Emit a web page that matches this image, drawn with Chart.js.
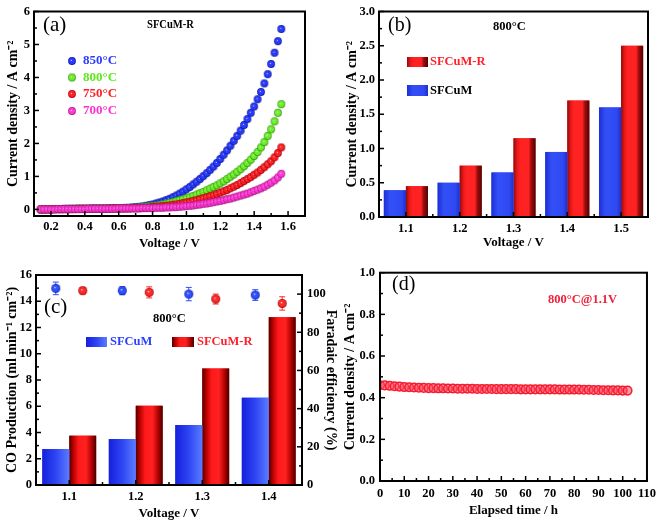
<!DOCTYPE html>
<html><head><meta charset="utf-8">
<script src="https://cdn.jsdelivr.net/npm/chart.js@4.4.1/dist/chart.umd.min.js"></script>
<style>
html,body{margin:0;padding:0;background:#fff;}
#wrap{position:relative;width:661px;height:522px;overflow:hidden;background:#fff;}
canvas{position:absolute;}
</style></head><body>
<div id="wrap">
<canvas id="ca" width="330" height="260" style="left:0;top:0"></canvas>
<canvas id="cb" width="331" height="260" style="left:330px;top:0"></canvas>
<canvas id="cc" width="340" height="262" style="left:0;top:260px"></canvas>
<canvas id="cd" width="331" height="262" style="left:330px;top:260px"></canvas>
</div>
<script>
// ---------- Panel (a) data ----------
const voltageA = [0.14,0.16,0.18,0.20,0.22,0.24,0.26,0.28,0.30,0.32,0.34,0.36,0.38,0.40,0.42,0.44,0.46,0.48,0.50,0.52,0.54,0.56,0.58,0.60,0.62,0.64,0.66,0.68,0.70,
  0.72,0.74,0.76,0.78,0.80,0.82,0.84,0.86,0.88,0.90,0.92,0.94,0.96,0.98,1.00,1.02,1.04,1.06,1.08,1.10,1.12,1.14,1.16,1.18,1.20,1.22,1.24,1.26,1.28,1.30,1.32,1.34,1.36,1.38,1.40,1.42,1.44,1.46,1.48,1.50,1.52,1.54,1.56];
const j850 = [0.00,0.00,0.01,0.01,0.01,0.01,0.01,0.02,0.02,0.02,0.02,0.02,0.02,0.02,0.02,0.03,0.03,0.03,0.03,0.03,0.03,0.03,0.04,0.04,0.04,0.05,0.05,0.06,0.07,
  0.08,0.09,0.11,0.13,0.15,0.18,0.21,0.24,0.28,0.32,0.37,0.42,0.48,0.54,0.61,0.68,0.76,0.84,0.92,1.01,1.10,1.20,1.30,1.41,1.53,1.66,1.79,1.93,2.08,2.23,2.39,2.56,2.74,2.93,3.12,3.34,3.56,3.82,4.10,4.41,4.75,5.10,5.47];
const j800 = [0.00,0.00,0.00,0.01,0.01,0.01,0.01,0.01,0.01,0.02,0.02,0.02,0.02,0.02,0.02,0.02,0.02,0.02,0.03,0.03,0.03,0.03,0.03,0.03,0.04,0.04,0.04,0.05,0.05,
  0.06,0.07,0.08,0.09,0.10,0.11,0.13,0.15,0.17,0.20,0.22,0.25,0.28,0.31,0.34,0.37,0.41,0.45,0.49,0.53,0.58,0.63,0.68,0.73,0.79,0.85,0.92,0.99,1.06,1.14,1.22,1.31,1.41,1.51,1.62,1.74,1.88,2.04,2.23,2.43,2.67,2.93,3.19];
const j750 = [0.00,0.00,0.00,0.00,0.01,0.01,0.01,0.01,0.01,0.01,0.01,0.02,0.02,0.02,0.02,0.02,0.02,0.02,0.02,0.02,0.03,0.03,0.03,0.03,0.03,0.03,0.03,0.04,0.04,
  0.04,0.05,0.05,0.06,0.07,0.08,0.09,0.10,0.11,0.12,0.14,0.15,0.17,0.19,0.21,0.23,0.26,0.28,0.31,0.34,0.37,0.40,0.43,0.47,0.51,0.55,0.59,0.64,0.69,0.74,0.80,0.86,0.92,0.98,1.05,1.12,1.20,1.28,1.37,1.46,1.58,1.71,1.88];
const j700 = [0.00,0.00,0.00,0.00,0.00,0.01,0.01,0.01,0.01,0.01,0.01,0.01,0.01,0.01,0.02,0.02,0.02,0.02,0.02,0.02,0.02,0.02,0.02,0.03,0.03,0.03,0.03,0.03,0.03,
  0.03,0.04,0.04,0.04,0.04,0.05,0.05,0.05,0.06,0.06,0.07,0.07,0.08,0.09,0.10,0.11,0.12,0.14,0.15,0.17,0.18,0.20,0.22,0.24,0.26,0.28,0.31,0.33,0.36,0.39,0.42,0.45,0.48,0.52,0.56,0.60,0.64,0.69,0.75,0.81,0.88,0.97,1.08];
const xTicksA = [0.2,0.4,0.6,0.8,1.0,1.2,1.4,1.6];
const xMinorA = [0.3,0.5,0.7,0.9,1.1,1.3,1.5];
const yTicksA = [0,1,2,3,4,5,6];
const yMinorA = [0.5,1.5,2.5,3.5,4.5,5.5];

// ---------- Panel (b) data ----------
const catsB = ['1.1','1.2','1.3','1.4','1.5'];
const sfcumB = [0.39,0.50,0.65,0.95,1.60];
const sfcumRB = [0.45,0.75,1.15,1.70,2.50];
const yTicksB = [0,0.5,1.0,1.5,2.0,2.5,3.0];
const yMinorB = [0.25,0.75,1.25,1.75,2.25,2.75];

// ---------- Panel (c) data ----------
const catsC = ['1.1','1.2','1.3','1.4'];
const coSFCuM = [2.74,3.50,4.57,6.65];
const coSFCuMR = [3.76,6.04,8.88,12.79];
const feSFCuM = [103.0,101.8,100.0,99.5];
const feSFCuMErr = [3.3,2.1,3.5,2.8];
const feSFCuMR = [101.8,100.9,97.4,95.1];
const feSFCuMRErr = [1.7,2.9,2.6,3.5];
const yTicksC = [0,2,4,6,8,10,12,14,16];
const yMinorC = [1,3,5,7,9,11,13,15];
const y1TicksC = [0,20,40,60,80,100];
const y1MinorC = [10,30,50,70,90];

// ---------- Panel (d) data ----------
const timeD = [0,2,4,6,8,10,12,14,16,18,20,22,24,26,28,30,32,34,36,38,40,42,44,46,48,50,52,54,56,58,60,62,64,66,68,70,72,74,76,78,80,82,84,86,88,90,92,94,96,98,100,102];
const jD = [0.460,0.459,0.457,0.455,0.453,0.451,0.450,0.449,0.448,0.447,0.446,0.446,0.445,0.445,0.444,0.444,0.443,0.443,0.443,0.443,
  0.442,0.442,0.442,0.442,0.441,0.441,0.441,0.441,0.441,0.440,0.440,0.440,0.440,0.440,0.440,0.440,0.440,0.439,0.439,0.439,0.439,0.439,
  0.438,0.438,0.437,0.437,0.436,0.436,0.435,0.435,0.434,0.434];
const xTicksD = [0,10,20,30,40,50,60,70,80,90,100,110];
const xMinorD = [5,15,25,35,45,55,65,75,85,95,105];
const yTicksD = [0,0.2,0.4,0.6,0.8,1.0];
const yMinorD = [0.1,0.3,0.5,0.7,0.9];

// ---------- helpers ----------
const FONT = '"Liberation Serif","Times New Roman",serif';
const f = (size, weight) => ({family: FONT, size: size, weight: weight || 'bold'});

function sphere(color, dark, r) {
  const c = document.createElement('canvas');
  const s = Math.ceil(r * 2) + 2; c.width = s; c.height = s;
  const g = c.getContext('2d');
  const cx = s / 2, cy = s / 2;
  const grad = g.createRadialGradient(cx - r * 0.2, cy - r * 0.2, 0, cx, cy, r);
  grad.addColorStop(0, '#ffffff');
  grad.addColorStop(0.25, color);
  grad.addColorStop(0.7, color);
  grad.addColorStop(1, dark);
  g.fillStyle = grad; g.beginPath(); g.arc(cx, cy, r, 0, Math.PI * 2); g.fill();
  return c;
}

function frame(specs) {
  return { id: 'frame', afterDraw(chart) {
    const {ctx, chartArea: a} = chart;
    ctx.save();
    ctx.strokeStyle = '#000'; ctx.lineWidth = 1.5;
    specs.forEach(sp => {
      const s = chart.scales[sp.id];
      [[sp.major, 5], [sp.minor || [], 3]].forEach(([vals, len]) => vals.forEach(v => {
        const p = s.getPixelForValue(v);
        ctx.beginPath();
        if (sp.side === 'bottom') { ctx.moveTo(p, a.bottom); ctx.lineTo(p, a.bottom - len); }
        else if (sp.side === 'left') { ctx.moveTo(a.left, p); ctx.lineTo(a.left + len, p); }
        else { ctx.moveTo(a.right, p); ctx.lineTo(a.right - len, p); }
        ctx.stroke();
      }));
    });
    ctx.lineWidth = 2;
    ctx.strokeRect(a.left, a.top, a.right - a.left, a.bottom - a.top);
    ctx.restore();
  }};
}

function texts(items) {
  return { id: 'texts', afterDraw(chart) {
    const ctx = chart.ctx;
    items.forEach(t => {
      ctx.save();
      if (t.sprite) {
        ctx.drawImage(t.sprite, t.x - t.sprite.width / 2, t.y - t.sprite.height / 2);
      } else if (t.box) {
        const [x, y, w, h] = t.box;
        const g = ctx.createLinearGradient(x, 0, x + w, 0);
        t.stops.forEach(s => g.addColorStop(s[0], s[1]));
        ctx.fillStyle = g; ctx.fillRect(x, y, w, h);
      } else {
        ctx.font = (t.weight || 'bold') + ' ' + t.size + 'px ' + FONT;
        ctx.fillStyle = t.color || '#000';
        ctx.textAlign = t.align || 'left';
        ctx.textBaseline = 'middle';
        if (t.maxWidth) ctx.fillText(t.text, t.x, t.y, t.maxWidth);
        else ctx.fillText(t.text, t.x, t.y);
      }
      ctx.restore();
    });
  }};
}

const barGrad = { id: 'barGrad', afterDatasetDraw(chart, args) {
  const ds = chart.data.datasets[args.index];
  if (!ds.gradStops) return;
  const ctx = chart.ctx;
  ctx.save();
  args.meta.data.forEach(el => {
    const {x, y, base, width} = el.getProps(['x', 'y', 'base', 'width'], true);
    const l = x - width / 2;
    const g = ctx.createLinearGradient(l, 0, l + width, 0);
    ds.gradStops.forEach(s => g.addColorStop(s[0], s[1]));
    ctx.fillStyle = g;
    ctx.fillRect(l, Math.min(y, base), width, Math.abs(base - y));
  });
  ctx.restore();
}};

const feAlign = { id: 'feAlign',
  afterDatasetsUpdate(chart) {
    chart.data.datasets.forEach((ds, i) => {
      if (ds.alignTo === undefined) return;
      const meta = chart.getDatasetMeta(i), bar = chart.getDatasetMeta(ds.alignTo);
      meta.data.forEach((pt, j) => { pt.x = bar.data[j].x; });
    });
  },
  beforeDatasetsDraw(chart) {
    const ctx = chart.ctx, s = chart.scales.y1;
    chart.data.datasets.forEach((ds, i) => {
      if (!ds.errors) return;
      const meta = chart.getDatasetMeta(i);
      ctx.save(); ctx.strokeStyle = ds.errColor; ctx.lineWidth = 1;
      meta.data.forEach((pt, j) => {
        const v = ds.data[j], e = ds.errors[j];
        const ya = s.getPixelForValue(v + e), yb = s.getPixelForValue(v - e);
        ctx.beginPath();
        ctx.moveTo(pt.x, ya); ctx.lineTo(pt.x, yb);
        ctx.moveTo(pt.x - 3, ya); ctx.lineTo(pt.x + 3, ya);
        ctx.moveTo(pt.x - 3, yb); ctx.lineTo(pt.x + 3, yb);
        ctx.stroke();
      });
      ctx.restore();
    });
  }
};

function linAxis(o) {
  return {
    type: 'linear', position: o.position, min: o.min, max: o.max,
    afterBuildTicks: s => { s.ticks = o.ticks.map(v => ({value: v})); },
    afterFit: s => { if (o.width !== undefined) s.width = o.width; if (o.height !== undefined) s.height = o.height; },
    grid: {display: false, drawTicks: false}, border: {display: false},
    ticks: {font: f(12.5), color: '#000', padding: o.pad, maxRotation: 0, autoSkip: false,
      callback: v => o.dec ? Number(v).toFixed(o.dec) : String(v)},
    title: {display: true, text: o.title, font: f(o.tsize), color: '#000', padding: o.tpad}
  };
}
function catAxis(o) {
  return {
    type: 'category', offset: true,
    afterFit: s => { s.height = o.height; },
    grid: {display: false, drawTicks: false, offset: true}, border: {display: false},
    ticks: {font: f(12.5), color: '#000', padding: o.pad, maxRotation: 0, autoSkip: false},
    title: {display: true, text: o.title, font: f(13), color: '#000', padding: o.tpad}
  };
}
const common = {responsive: false, animation: false, events: []};
const noPlug = {legend: {display: false}, tooltip: {enabled: false}};

const blueB = [[0, '#1d2fd6'], [0.3, '#3350f7'], [0.8, '#2f49f2'], [1, '#1f2fc8']];
const redB = [[0, '#8e0a0a'], [0.16, '#e81818'], [0.3, '#ff2222'], [0.68, '#ff2222'], [0.8, '#a00c0c'], [1, '#4a0505']];
const blueC = [[0, '#1620dc'], [0.5, '#2d45f3'], [1, '#5a7cff']];
const redC = [[0, '#4f0000'], [0.15, '#b80000'], [0.35, '#ff1a1a'], [0.62, '#ff2020'], [0.85, '#aa0000'], [1, '#420000']];

// ---------- Panel (a) ----------
const sphA = [
  sphere('#2a3bff', '#0a1590', 3.9),
  sphere('#6cf02a', '#2f8a08', 3.9),
  sphere('#ff2226', '#9a0008', 3.9),
  sphere('#ff3ad6', '#a0127e', 3.9)
];
new Chart(document.getElementById('ca'), {
  type: 'scatter',
  data: {datasets: [
    {label: '850°C', data: voltageA.map((v, i) => ({x: v, y: j850[i]})), pointStyle: sphA[0], pointRadius: 4, order: 3},
    {label: '800°C', data: voltageA.map((v, i) => ({x: v, y: j800[i]})), pointStyle: sphA[1], pointRadius: 4, order: 2},
    {label: '750°C', data: voltageA.map((v, i) => ({x: v, y: j750[i]})), pointStyle: sphA[2], pointRadius: 4, order: 1},
    {label: '700°C', data: voltageA.map((v, i) => ({x: v, y: j700[i]})), pointStyle: sphA[3], pointRadius: 4, order: 0}
  ]},
  options: Object.assign({}, common, {
    layout: {padding: {top: 7, right: 25, left: 0, bottom: 0}},
    plugins: noPlug,
    scales: {
      x: linAxis({min: 0.1, max: 1.7, ticks: xTicksA, height: 44, pad: 3, dec: 1, title: 'Voltage / V', tsize: 13, tpad: {top: 0, bottom: 9}}),
      y: linAxis({min: -0.2, max: 6, ticks: yTicksA, width: 34, pad: 4, title: 'Current density / A cm⁻²', tsize: 14, tpad: {top: 5, bottom: 0}})
    }
  }),
  plugins: [frame([{id: 'x', side: 'bottom', major: xTicksA, minor: xMinorA}, {id: 'y', side: 'left', major: yTicksA, minor: yMinorA}]),
    texts([
      {text: '(a)', x: 43, y: 25, size: 21, weight: 'normal'},
      {text: 'SFCuM-R', x: 147, y: 25, size: 13, maxWidth: 47},
      {sprite: sphA[0], x: 72, y: 61}, {text: '850°C', x: 83, y: 61, size: 13, color: '#2a3bff'},
      {sprite: sphA[1], x: 72, y: 77.5}, {text: '800°C', x: 83, y: 77.5, size: 13, color: '#5fe81e'},
      {sprite: sphA[2], x: 72, y: 94}, {text: '750°C', x: 83, y: 94, size: 13, color: '#ff1e24'},
      {sprite: sphA[3], x: 72, y: 111}, {text: '700°C', x: 83, y: 111, size: 13, color: '#ff30d0'}
    ])]
});

// ---------- Panel (b) ----------
new Chart(document.getElementById('cb'), {
  type: 'bar',
  data: {labels: catsB, datasets: [
    {label: 'SFCuM', data: sfcumB, backgroundColor: '#2f49f2', gradStops: blueB, categoryPercentage: 0.82, barPercentage: 1.0},
    {label: 'SFCuM-R', data: sfcumRB, backgroundColor: '#ff2222', gradStops: redB, categoryPercentage: 0.82, barPercentage: 1.0}
  ]},
  options: Object.assign({}, common, {
    layout: {padding: {top: 7, right: 13, left: 0, bottom: 0}},
    plugins: noPlug,
    scales: {
      x: catAxis({height: 43, pad: 4, title: 'Voltage / V', tpad: {top: 0, bottom: 10}}),
      y: linAxis({min: 0, max: 3.0, ticks: yTicksB, width: 49, pad: 4, dec: 1, title: 'Current density / A cm⁻²', tsize: 14, tpad: {top: 14, bottom: 0}})
    }
  }),
  plugins: [barGrad,
    frame([{id: 'x', side: 'bottom', major: catsB.map((_, i) => i), minor: catsB.slice(1).map((_, i) => i + 0.5)}, {id: 'y', side: 'left', major: yTicksB, minor: yMinorB}]),
    texts([
      {text: '(b)', x: 58, y: 26, size: 20, weight: 'normal'},
      {text: '800°C', x: 163, y: 27, size: 12.5},
      {box: [77, 57, 21, 10], stops: redB}, {text: 'SFCuM-R', x: 100, y: 62, size: 12.5, color: '#ff1f2a'},
      {box: [77, 85, 21, 11], stops: blueB}, {text: 'SFCuM', x: 100, y: 91, size: 12.5, color: '#000'}
    ])]
});

// ---------- Panel (c) ----------
const sphC = [sphere('#3050ff', '#0a1a9a', 4.5), sphere('#ff2a2a', '#9a0000', 4.5)];
new Chart(document.getElementById('cc'), {
  type: 'bar',
  data: {labels: catsC, datasets: [
    {label: 'SFCuM', data: coSFCuM, backgroundColor: '#2d45f3', gradStops: blueC, categoryPercentage: 0.81, barPercentage: 1.0, order: 1},
    {label: 'SFCuM-R', data: coSFCuMR, backgroundColor: '#ff2020', gradStops: redC, categoryPercentage: 0.81, barPercentage: 1.0, order: 1},
    {type: 'line', label: 'FE SFCuM', data: feSFCuM, yAxisID: 'y1', showLine: false, pointStyle: sphC[0], pointRadius: 4,
      alignTo: 0, errors: feSFCuMErr, errColor: '#3050ff', order: 0},
    {type: 'line', label: 'FE SFCuM-R', data: feSFCuMR, yAxisID: 'y1', showLine: false, pointStyle: sphC[1], pointRadius: 4,
      alignTo: 1, errors: feSFCuMRErr, errColor: '#ff2a2a', order: 0}
  ]},
  options: Object.assign({}, common, {
    layout: {padding: {top: 15, right: 0, left: 0, bottom: 0}},
    plugins: noPlug,
    scales: {
      x: catAxis({height: 37, pad: 4, title: 'Voltage / V', tpad: {top: 0, bottom: 1}}),
      y: linAxis({min: 0, max: 16, ticks: yTicksC, width: 36, pad: 4, title: 'CO Production (ml min⁻¹ cm⁻²)', tsize: 14, tpad: {top: 4, bottom: 0}}),
      y1: linAxis({position: 'right', min: 0, max: 110, ticks: y1TicksC, width: 38, pad: 5, title: 'Faradaic efficiency (%)', tsize: 14, tpad: {top: 1, bottom: 0}})
    }
  }),
  plugins: [barGrad, feAlign,
    frame([{id: 'x', side: 'bottom', major: catsC.map((_, i) => i), minor: catsC.slice(1).map((_, i) => i + 0.5)},
      {id: 'y', side: 'left', major: yTicksC, minor: yMinorC}, {id: 'y1', side: 'right', major: y1TicksC, minor: y1MinorC}]),
    texts([
      {text: '(c)', x: 44, y: 47, size: 21, weight: 'normal'},
      {text: '800°C', x: 153, y: 59, size: 12.5},
      {box: [86, 77, 21, 10], stops: blueC}, {text: 'SFCuM', x: 110, y: 82, size: 12.5, color: '#2a40ff'},
      {box: [172, 77, 22, 10], stops: redC}, {text: 'SFCuM-R', x: 197, y: 82, size: 12.5, color: '#ff1f2a'}
    ])]
});

// ---------- Panel (d) ----------
new Chart(document.getElementById('cd'), {
  type: 'scatter',
  data: {datasets: [
    {label: '800°C@1.1V', data: timeD.map((t, i) => ({x: t, y: jD[i]})), pointStyle: 'circle', pointRadius: 4.3,
      backgroundColor: 'rgba(255,70,90,0.55)', borderColor: '#f51a30', borderWidth: 1.5}
  ]},
  options: Object.assign({}, common, {
    layout: {padding: {top: 12.7, right: 10, left: 0, bottom: 0}},
    plugins: noPlug,
    scales: {
      x: linAxis({min: 0, max: 110, ticks: xTicksD, height: 41, pad: 5, title: 'Elapsed time / h', tsize: 13, tpad: {top: 0, bottom: 4}}),
      y: linAxis({min: 0, max: 1.0, ticks: yTicksD, width: 50, pad: 5, dec: 1, title: 'Current density / A cm⁻²', tsize: 14, tpad: {top: 12, bottom: 0}})
    }
  }),
  plugins: [frame([{id: 'x', side: 'bottom', major: xTicksD, minor: xMinorD}, {id: 'y', side: 'left', major: yTicksD, minor: yMinorD}]),
    texts([
      {text: '(d)', x: 62, y: 25, size: 20, weight: 'normal'},
      {text: '800°C@1.1V', x: 218, y: 40, size: 12.5, color: '#f0203a'}
    ])]
});
</script>
</body></html>
